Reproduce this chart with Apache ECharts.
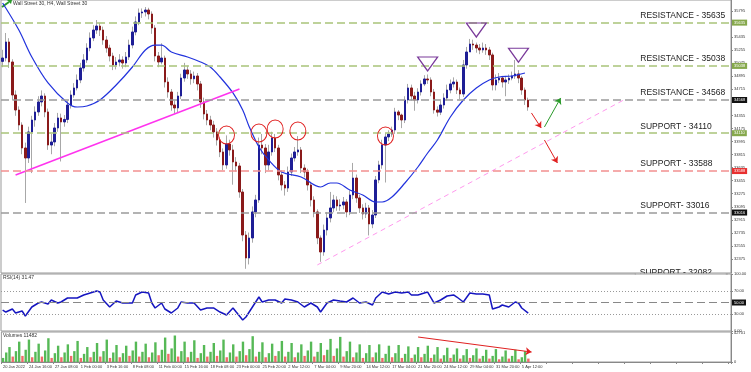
<!DOCTYPE html>
<html><head><meta charset="utf-8">
<script src="https://cdn.jsdelivr.net/npm/echarts@6/dist/echarts.min.js"></script>
<style>html,body{margin:0;padding:0;background:#fff}#c{width:751px;height:372px}</style>
</head><body><div id="c"></div>
<script>
// ---------- DATA ----------
const xLabels = ["20 Jan 2022","24 Jan 16:00","27 Jan 08:00","1 Feb 00:00","3 Feb 16:00","8 Feb 08:00","11 Feb 00:00","15 Feb 16:00","18 Feb 08:00","23 Feb 00:00","25 Feb 20:00","2 Mar 12:00","7 Mar 04:00","9 Mar 20:00","14 Mar 12:00","17 Mar 04:00","21 Mar 20:00","24 Mar 12:00","29 Mar 04:00","31 Mar 20:00","5 Apr 12:00"];
const firstOpen = 35100;
const closes = [
35147,35368,35092,34637,34430,34223,33906,33768,34127,34292,
34403,34541,34623,34403,33947,33989,34182,34320,34265,34300,
34499,34637,34734,34844,35009,35120,35285,35423,35533,35588,
35533,35395,35285,35175,35051,35092,35120,35078,35161,35326,
35506,35644,35768,35782,35809,35754,35561,35175,35092,35147,
34816,34678,34499,34458,34623,34871,34982,34927,34860,34899,
34789,34541,34375,34292,34223,34127,34016,33851,33672,33961,
33879,33713,33658,33299,32706,32389,32665,33024,33189,33947,
33906,33672,33851,34044,33906,33534,33396,33354,33575,33768,
33851,33879,33630,33575,33396,33189,33024,32665,32472,32775,
32941,33079,33189,33106,33120,33162,33024,33258,33492,33217,
33079,32996,33079,32858,32982,33465,33672,33947,34058,34099,
34154,34403,34361,34292,34568,34734,34623,34568,34678,34789,
34858,34844,34678,34430,34400,34499,34596,34706,34789,34816,
34706,34651,35051,35230,35340,35326,35285,35258,35285,35258,
35189,34775,34844,34871,34816,34844,34870,34899,34927,34871,
34706,34568,34471];
const highs = [
35260,35492,35420,35130,34700,34480,34260,33980,34200,34350,
34480,34620,34700,34660,34450,34100,34250,34390,34380,34360,
34560,34700,34800,34920,35080,35200,35350,35500,35600,35671,
35630,35580,35450,35330,35220,35160,35200,35170,35230,35400,
35580,35720,35830,35830,35850,35840,35790,35600,35230,35350,
35180,34880,34720,34560,34680,34930,35080,35040,34980,34960,
34940,34830,34600,34430,34350,34280,34180,34060,33900,34080,
34020,33950,33780,33700,33340,32760,32740,33100,33260,34050,
34100,33960,33950,34130,34100,33950,33600,33450,33650,33830,
33920,34070,33920,33680,33620,33440,33240,33060,32700,32850,
33020,33300,33260,33240,33200,33230,33200,33320,33700,33540,
33260,33130,33150,33120,33050,33520,33730,34020,34110,34150,
34200,34460,34430,34380,34620,34790,34780,34680,34730,34840,
34910,34920,34880,34720,34480,34560,34660,34780,34850,34880,
34850,34740,35120,35300,35410,35400,35360,35340,35360,35340,
35300,35220,34920,34940,34900,34900,34920,34960,35120,34980,
34900,34740,34600];
const lows = [
35020,35100,35010,34560,34350,34150,33820,33148,33700,33560,
34200,34350,34480,34330,33880,33820,33930,34130,33720,34200,
34250,34450,34600,34700,34800,34960,35080,35240,35380,35480,
35450,35330,35220,35100,34980,34990,35030,35000,35020,35120,
35280,35460,35600,35700,35720,35680,35480,35100,35020,35060,
34740,34600,34420,34380,34400,34580,34820,34860,34780,34800,
34700,34460,34300,34220,34150,34050,33940,33780,33600,33620,
33800,33400,33580,33220,32620,32240,32300,32600,32950,33150,
33820,33560,33600,33800,33850,33460,33320,33250,33300,33520,
33720,33800,33560,33500,33320,33100,32950,32580,32336,32420,
32700,32880,33020,33040,33040,33060,32950,32980,33200,33150,
33010,32920,32940,32700,32800,32940,33420,33620,33430,34000,
34060,34100,34290,34180,34250,34520,34560,34420,34520,34630,
34760,34790,34620,34380,34340,34360,34450,34560,34660,34740,
34650,34580,34610,35000,35280,35260,35220,35200,35220,35190,
35120,34700,34700,34800,34740,34620,34790,34840,34860,34800,
34640,34500,34420];
const maPoints = [[0,35906],[5,35533],[9,35161],[14,34803],[20,34527],[23,34471],[26,34485],[30,34568],[35,34775],[40,35023],[44,35258],[47,35326],[49,35326],[52,35230],[57,35161],[61,35092],[64,35023],[67,34885],[71,34665],[74,34430],[76,34200],[79,33920],[82,33741],[86,33575],[92,33506],[98,33368],[101,33423],[103,33423],[107,33327],[111,33258],[115,33161],[117,33161],[120,33230],[124,33423],[128,33644],[131,33837],[134,34016],[138,34334],[142,34568],[146,34734],[150,34844],[153,34885],[157,34899],[161,34940]];
const rsiPoints = [[0,36.8],[1,33.3],[3,38.6],[4,31.6],[6,35.1],[7,26.3],[9,42.1],[11,49.1],[12,50.9],[14,47.4],[15,54.4],[17,49.1],[18,50.9],[20,57.9],[23,57.9],[25,63.2],[27,66.7],[29,70.2],[30,68.4],[31,54.4],[33,42.1],[35,52.6],[37,49.1],[40,49.1],[41,63.2],[43,68.4],[45,66.7],[46,49.1],[47,40.4],[49,49.1],[50,38.6],[52,31.6],[54,40.4],[55,50.9],[57,49.1],[59,49.1],[61,36.8],[63,40.4],[65,40.4],[67,33.3],[69,28.1],[71,40.4],[72,33.3],[74,19.3],[75,24.6],[77,42.1],[79,59.6],[80,50.9],[82,54.4],[84,54.4],[86,49.1],[87,56.1],[89,54.4],[91,50.9],[93,42.1],[95,49.1],[97,42.1],[98,33.3],[100,49.1],[102,54.4],[104,52.6],[106,50.9],[108,57.9],[110,49.1],[112,50.9],[114,45.6],[115,57.9],[117,68.4],[119,64.9],[121,68.4],[123,66.7],[125,68.4],[126,63.2],[128,63.2],[131,68.4],[133,49.1],[135,54.4],[137,61.4],[139,63.2],[140,59.6],[142,50.9],[144,66.7],[146,64.9],[148,64.9],[150,63.2],[151,38.6],[153,42.1],[154,45.6],[156,42.1],[158,50.9],[159,49.1],[160,40.4],[162,31.5]];
const volumes = [
6000,14000,22000, 8000,16000,30000, 9000,18000,33000, 7000,15000,27000,
8000,17000,35000, 6000,13000,24000, 7000,14000,26000, 9000,16000,31000,
6000,12000,22000, 7000,15000,28000, 8000,16000,33000, 6000,14000,25000,
7000,13000,24000, 9000,17000,30000, 8000,15000,27000, 7000,14000,29000,
10000,18000,36000, 12000,20000,39000, 8000,16000,30000, 7000,15000,32000,
6000,13000,25000, 8000,15000,28000, 9000,17000,33000, 7000,14000,26000,
8000,16000,30000, 10000,19000,38000, 8000,15000,29000, 7000,13000,27000,
9000,16000,31000, 8000,15000,28000, 7000,14000,26000, 9000,17000,30000,
8000,15000,28000, 10000,18000,34000, 9000,20000,37000, 8000,16000,30000,
7000,14000,26000, 6000,13000,25000, 7000,14000,26000, 6000,12000,24000,
7000,13000,25000, 6000,12000,23000, 6000,11000,22000, 7000,12000,24000,
6000,11000,22000, 5000,10000,21000, 6000,11000,20000, 5000,10000,19000,
6000,10000,20000, 5000,9000,18000, 5000,9000,19000, 4000,8000,17000,
5000,9000,18000, 4000,7000,16000, 5000];
const priceTicks = [35795,35615,35435,35255,35075,34895,34715,34535,34355,34175,33995,33815,33635,33455,33275,33095,32915,32735,32555,32375];
const levelValues = [35635,35038,34568,34110,33588,33016];
const levelNames = ["RESISTANCE - 35635","RESISTANCE - 35038","RESISTANCE - 34568","SUPPORT - 34110","SUPPORT - 33588","SUPPORT- 33016"];
const lowSupportValue = 32082;
const lowSupportName = "SUPPORT - 32082";
const rsiLevels = [70,50,30];
const rsiTicks = [0,30,70,100];
const volTicks = [0,42701];
const circleMarks = [[69,34085],[79,34113],[84,34168],[91,34140],[118,34071]];
const triangleMarks = [[131,35065],[146,35533],[159,35186]];
const magentaLine = [[4,33534],[73,34720]];
const pinkLine = [[97,32293],[192,34582]];
const redArrow1 = [[163,34389],[166,34182]];
const greenArrow = [[167,34196],[172,34596]];
const redArrow2 = [[167,34016],[171,33699]];
const volArrow = [[128,36800],[163,14700]];

// ---------- BUILD ----------
const N = 225;
const cats = Array.from({length: N}, (_, i) => i);
const candles = closes.map((c, i) => [i ? closes[i - 1] : firstOpen, c, lows[i], highs[i]]);
const bodies = candles.map(([o, c]) => [o, c, Math.min(o, c), Math.max(o, c)]);
const volData = volumes.map((v, i) => ({value: v, itemStyle: {color: (i === 0 || v >= volumes[i - 1]) ? '#56b956' : '#f06a6a'}}));
const levelColors = ['#a9c37a','#a9c37a','#9a9a9a','#a9c37a','#f29090','#9a9a9a'];
const levelBoxColors = ['#86a84c','#86a84c','#111111','#86a84c','#e83030','#111111'];
const FONT = 'Liberation Sans, Arial, sans-serif';
const tiny = {fontSize: 4, color: '#333', fontFamily: FONT};
const anchorIdx = 197;

const segment = (pts, style, arrow) => [
  {coord: pts[0], symbol: 'none', lineStyle: style},
  {coord: pts[1], symbol: arrow ? 'arrow' : 'none', symbolSize: arrow ? 6 : 0, lineStyle: style}
];

const option = {
  backgroundColor: '#ffffff',
  animation: false,
  grid: [
    {left: 1, right: 20, top: 0, height: 273, show: true, borderColor: '#999', borderWidth: 1, backgroundColor: 'transparent'},
    {left: 1, right: 20, top: 274, height: 57, show: true, borderColor: '#999', borderWidth: 1, backgroundColor: '#fff'},
    {left: 1, right: 20, top: 332, height: 30, show: true, borderColor: '#999', borderWidth: 1, backgroundColor: '#fff'}
  ],
  xAxis: [0, 1, 2].map(g => ({
    type: 'category', gridIndex: g, data: cats, boundaryGap: true,
    show: g === 2,
    axisLine: {show: true, lineStyle: {color: '#888'}},
    axisTick: {show: true, interval: 7, length: 2, lineStyle: {color: '#888'}},
    axisLabel: {interval: 7, showMinLabel: true, hideOverlap: false, align: 'left', margin: 3, ...tiny,
      formatter: (v, idx) => xLabels[Math.round(idx / 8)] || ''},
    splitLine: {show: false}
  })),
  yAxis: [
    {type: 'value', gridIndex: 0, position: 'right', min: 32182, max: 35947, scale: true,
      splitLine: {show: false}, axisLine: {show: true, lineStyle: {color: '#888'}},
      axisTick: {show: true, length: 2, customValues: priceTicks, lineStyle: {color: '#888'}},
      axisLabel: {customValues: priceTicks, margin: 3, ...tiny, formatter: v => String(v)}},
    {type: 'value', gridIndex: 1, position: 'right', min: 0, max: 100,
      splitLine: {show: false}, axisLine: {show: true, lineStyle: {color: '#888'}},
      axisTick: {show: true, length: 2, customValues: rsiTicks, lineStyle: {color: '#888'}},
      axisLabel: {customValues: rsiTicks, margin: 3, ...tiny, formatter: v => v.toFixed(2)}},
    {type: 'value', gridIndex: 2, position: 'right', min: 0, max: 44170,
      splitLine: {show: false}, axisLine: {show: true, lineStyle: {color: '#888'}},
      axisTick: {show: true, length: 2, customValues: volTicks, lineStyle: {color: '#888'}},
      axisLabel: {customValues: volTicks, margin: 3, ...tiny, formatter: v => String(v)}}
  ],
  series: [
    {type: 'candlestick', name: 'wicks', xAxisIndex: 0, yAxisIndex: 0, data: candles, barWidth: 1,
      itemStyle: {color: 'transparent', color0: 'transparent', borderColor: '#a8a8a8', borderColor0: '#a8a8a8', borderWidth: 1},
      markLine: {silent: true, symbol: 'none', animation: false, label: {show: false}, lineStyle: {type: 'solid'},
        data: [
          segment(magentaLine, {color: '#ff33ee', width: 1.5, type: 'solid'}),
          segment(pinkLine, {color: '#ff99ee', width: 1, type: [5, 4]})
        ]}
    },
    {type: 'candlestick', name: 'bodies', xAxisIndex: 0, yAxisIndex: 0, data: bodies, barWidth: 2, z: 3,
      itemStyle: {color: '#1e1e96', color0: '#8a1a1a', borderColor: '#1e1e96', borderColor0: '#8a1a1a', borderWidth: 1},
      markLine: {silent: true, symbol: 'none', animation: false,
        data: levelValues.map((v, k) => ({yAxis: v,
          lineStyle: {color: levelColors[k], width: 1.5, type: [8, 4]},
          label: {show: true, position: 'end', distance: 1, formatter: String(v), color: '#fff', fontSize: 4,
            fontFamily: FONT, backgroundColor: levelBoxColors[k], padding: [1, 2]}}))},
      markPoint: {silent: true, animation: false,
        data: [
          ...levelValues.map((v, k) => ({coord: [anchorIdx, v], symbol: 'circle', symbolSize: 1,
            itemStyle: {color: 'rgba(0,0,0,0)'},
            label: {show: true, position: 'right', distance: 0, offset: [-2, -7], formatter: levelNames[k],
              fontSize: 8.5, color: '#222', fontFamily: FONT}})),
          ...circleMarks.map(p => ({coord: p, symbol: 'circle', symbolSize: [16, 18],
            itemStyle: {color: 'rgba(0,0,0,0)', borderColor: '#e02020', borderWidth: 1}, label: {show: false}})),
          ...triangleMarks.map(p => ({coord: p, symbol: 'triangle', symbolRotate: 180, symbolSize: [20, 14],
            itemStyle: {color: 'rgba(0,0,0,0)', borderColor: '#7a3a9a', borderWidth: 1.2}, label: {show: false}}))
        ]}
    },
    {type: 'line', name: 'MA', xAxisIndex: 0, yAxisIndex: 0, data: maPoints, smooth: 0.35, showSymbol: false,
      lineStyle: {color: '#2233dd', width: 1.2}, z: 4,
      markLine: {silent: true, symbol: 'none', animation: false, label: {show: false}, lineStyle: {type: 'solid'},
        data: [
          segment(redArrow1, {color: '#e02020', width: 1, type: 'solid'}, true),
          segment(greenArrow, {color: '#2a9a2a', width: 1, type: 'solid'}, true),
          segment(redArrow2, {color: '#e02020', width: 1, type: 'solid'}, true)
        ]}
    },
    {type: 'line', name: 'RSI', xAxisIndex: 1, yAxisIndex: 1, data: rsiPoints, showSymbol: false,
      lineStyle: {color: '#1515c0', width: 1.5},
      markLine: {silent: true, symbol: 'none', animation: false,
        data: rsiLevels.map(v => ({yAxis: v,
          lineStyle: v === 50 ? {color: '#888', width: 1.2, type: [8, 4]} : {color: '#999', width: 1, type: [1, 2]},
          label: v === 50 ? {show: true, position: 'end', distance: 1, formatter: '50.00', color: '#fff', fontSize: 4,
            fontFamily: FONT, backgroundColor: '#111', padding: [1, 2]} : {show: false}}))}
    },
    {type: 'bar', name: 'Volumes', xAxisIndex: 2, yAxisIndex: 2, data: volData, barWidth: 2.4,
      markLine: {silent: true, symbol: 'none', animation: false, label: {show: false}, lineStyle: {type: 'solid'},
        data: [segment(volArrow, {color: '#e02020', width: 1, type: 'solid'}, true)]}
    }
  ],
  graphic: [
    {type: 'polyline', shape: {points: [[2, 7], [9, 2]]}, style: {stroke: '#2a9a2a', lineWidth: 2}},
    {type: 'polygon', shape: {points: [[7, 0], [12, 0], [11, 4]]}, style: {fill: '#2a9a2a'}},
    {type: 'text', left: 13, top: 1, style: {text: 'Wall Street 30, H4, Wall Street 30', fontSize: 5, fill: '#333', fontFamily: FONT}},
    {type: 'text', left: 3, top: 275, style: {text: 'RSI(14) 31.47', fontSize: 5, fill: '#333', fontFamily: FONT}},
    {type: 'text', left: 3, top: 333, style: {text: 'Volumes 11482', fontSize: 5, fill: '#333', fontFamily: FONT}}
  ]
};

const chart = echarts.init(document.getElementById('c'));
chart.setOption(option);
const p = chart.convertToPixel({xAxisIndex: 0, yAxisIndex: 0}, [anchorIdx, lowSupportValue]);
const g = chart.convertToPixel({xAxisIndex: 1, yAxisIndex: 1}, [0, 100]);
chart.setOption({graphic: option.graphic.concat([
  {type: 'text', z: 50, x: p[0] - 2, y: p[1] - 12.5, style: {text: lowSupportName, fontSize: 8.5, fill: '#222', fontFamily: FONT}},
  {type: 'rect', z: 60, shape: {x: p[0] - 6, y: g[1] - 0.5, width: 90, height: 12}, style: {fill: '#fff'}},
  {type: 'line', z: 70, shape: {x1: p[0] - 7, y1: g[1], x2: p[0] + 86, y2: g[1]}, style: {stroke: '#999', lineWidth: 1}}
])});
</script>
</body></html>
